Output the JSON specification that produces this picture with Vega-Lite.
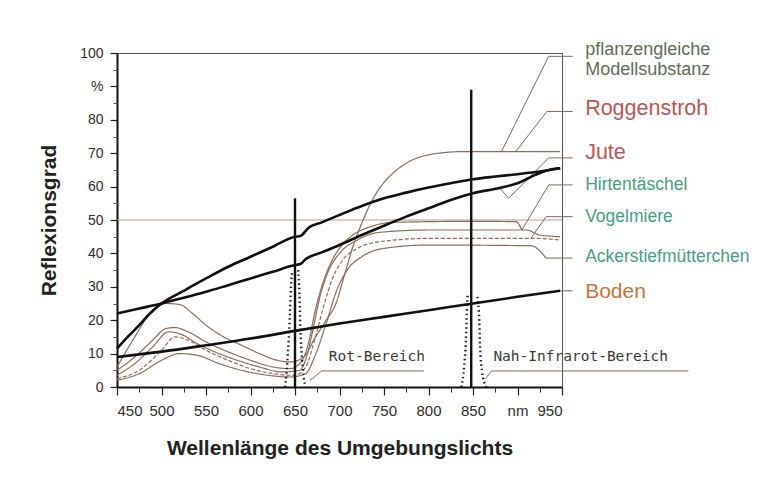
{
  "$schema": "https://vega.github.io/schema/vega-lite/v6.json",
  "width": 445,
  "height": 334,
  "autosize": {"type": "none"},
  "padding": {"left": 117, "top": 53, "right": 200, "bottom": 101},
  "background": "white",
  "config": {"view": {"stroke": "#555", "strokeWidth": 1}, "font": "Liberation Sans"},
  "datasets": {
    "thick": [
      {"s": "A", "x": 450, "y": 22}, {"s": "A", "x": 475, "y": 23.5}, {"s": "A", "x": 500, "y": 25}, {"s": "A", "x": 525, "y": 26.7}, {"s": "A", "x": 550, "y": 28.5}, {"s": "A", "x": 575, "y": 30.5}, {"s": "A", "x": 600, "y": 32.5}, {"s": "A", "x": 625, "y": 34.5}, {"s": "A", "x": 650, "y": 36.5}, {"s": "A", "x": 656, "y": 36.8}, {"s": "A", "x": 662, "y": 38.3}, {"s": "A", "x": 680, "y": 40.3}, {"s": "A", "x": 700, "y": 42.5}, {"s": "A", "x": 725, "y": 45.5}, {"s": "A", "x": 750, "y": 48.3}, {"s": "A", "x": 775, "y": 51}, {"s": "A", "x": 800, "y": 53.5}, {"s": "A", "x": 825, "y": 56}, {"s": "A", "x": 850, "y": 58}, {"s": "A", "x": 880, "y": 59.6}, {"s": "A", "x": 900, "y": 61}, {"s": "A", "x": 920, "y": 63.5}, {"s": "A", "x": 935, "y": 65}, {"s": "A", "x": 948, "y": 65.5},
      {"s": "B", "x": 450, "y": 11.5}, {"s": "B", "x": 462, "y": 15}, {"s": "B", "x": 475, "y": 18.5}, {"s": "B", "x": 487, "y": 22}, {"s": "B", "x": 500, "y": 25}, {"s": "B", "x": 525, "y": 28.8}, {"s": "B", "x": 550, "y": 32.5}, {"s": "B", "x": 575, "y": 36}, {"s": "B", "x": 600, "y": 39}, {"s": "B", "x": 625, "y": 42}, {"s": "B", "x": 650, "y": 45}, {"s": "B", "x": 656, "y": 45.2}, {"s": "B", "x": 665, "y": 47.6}, {"s": "B", "x": 680, "y": 49.3}, {"s": "B", "x": 700, "y": 51.5}, {"s": "B", "x": 725, "y": 54.2}, {"s": "B", "x": 750, "y": 56.5}, {"s": "B", "x": 775, "y": 58.2}, {"s": "B", "x": 800, "y": 59.7}, {"s": "B", "x": 825, "y": 61}, {"s": "B", "x": 850, "y": 62.2}, {"s": "B", "x": 875, "y": 63}, {"s": "B", "x": 900, "y": 63.7}, {"s": "B", "x": 925, "y": 64.5}, {"s": "B", "x": 948, "y": 65.5},
      {"s": "Boden", "x": 450, "y": 9}, {"s": "Boden", "x": 500, "y": 10.6}, {"s": "Boden", "x": 550, "y": 12.5}, {"s": "Boden", "x": 600, "y": 14.5}, {"s": "Boden", "x": 650, "y": 16.8}, {"s": "Boden", "x": 700, "y": 19}, {"s": "Boden", "x": 750, "y": 21}, {"s": "Boden", "x": 800, "y": 23}, {"s": "Boden", "x": 850, "y": 25}, {"s": "Boden", "x": 900, "y": 27}, {"s": "Boden", "x": 948, "y": 28.8}
    ],
    "thin": [
      {"s": "C1", "x": 450, "y": 6}, {"s": "C1", "x": 470, "y": 15}, {"s": "C1", "x": 490, "y": 23}, {"s": "C1", "x": 505, "y": 25}, {"s": "C1", "x": 520, "y": 24.7}, {"s": "C1", "x": 535, "y": 22}, {"s": "C1", "x": 550, "y": 18.5}, {"s": "C1", "x": 570, "y": 15}, {"s": "C1", "x": 590, "y": 12.5}, {"s": "C1", "x": 610, "y": 10}, {"s": "C1", "x": 630, "y": 8}, {"s": "C1", "x": 645, "y": 7.5}, {"s": "C1", "x": 660, "y": 9}, {"s": "C1", "x": 672, "y": 14.5}, {"s": "C1", "x": 685, "y": 20}, {"s": "C1", "x": 696, "y": 25}, {"s": "C1", "x": 705, "y": 33}, {"s": "C1", "x": 715, "y": 42}, {"s": "C1", "x": 725, "y": 49}, {"s": "C1", "x": 735, "y": 55}, {"s": "C1", "x": 745, "y": 59.5}, {"s": "C1", "x": 760, "y": 64}, {"s": "C1", "x": 775, "y": 67}, {"s": "C1", "x": 800, "y": 69.5}, {"s": "C1", "x": 840, "y": 70.5}, {"s": "C1", "x": 948, "y": 70.5},
      {"s": "C2", "x": 450, "y": 5}, {"s": "C2", "x": 470, "y": 9}, {"s": "C2", "x": 490, "y": 14}, {"s": "C2", "x": 505, "y": 17.5}, {"s": "C2", "x": 515, "y": 17.8}, {"s": "C2", "x": 530, "y": 16.5}, {"s": "C2", "x": 550, "y": 13.5}, {"s": "C2", "x": 575, "y": 10.5}, {"s": "C2", "x": 600, "y": 8}, {"s": "C2", "x": 625, "y": 6}, {"s": "C2", "x": 645, "y": 5.5}, {"s": "C2", "x": 658, "y": 8}, {"s": "C2", "x": 665, "y": 13}, {"s": "C2", "x": 672, "y": 22}, {"s": "C2", "x": 680, "y": 30}, {"s": "C2", "x": 690, "y": 37}, {"s": "C2", "x": 700, "y": 41.5}, {"s": "C2", "x": 715, "y": 45.5}, {"s": "C2", "x": 735, "y": 48}, {"s": "C2", "x": 760, "y": 49.3}, {"s": "C2", "x": 850, "y": 49.6}, {"s": "C2", "x": 898, "y": 49.5}, {"s": "C2", "x": 905, "y": 47},
      {"s": "C3", "x": 450, "y": 3.5}, {"s": "C3", "x": 470, "y": 7}, {"s": "C3", "x": 490, "y": 12}, {"s": "C3", "x": 508, "y": 16.5}, {"s": "C3", "x": 520, "y": 16}, {"s": "C3", "x": 540, "y": 13}, {"s": "C3", "x": 560, "y": 10.5}, {"s": "C3", "x": 585, "y": 8}, {"s": "C3", "x": 610, "y": 6}, {"s": "C3", "x": 635, "y": 4.5}, {"s": "C3", "x": 655, "y": 5}, {"s": "C3", "x": 663, "y": 9}, {"s": "C3", "x": 670, "y": 17}, {"s": "C3", "x": 678, "y": 27}, {"s": "C3", "x": 688, "y": 35}, {"s": "C3", "x": 700, "y": 40}, {"s": "C3", "x": 720, "y": 44}, {"s": "C3", "x": 745, "y": 46.3}, {"s": "C3", "x": 800, "y": 47}, {"s": "C3", "x": 910, "y": 47}, {"s": "C3", "x": 925, "y": 45.5}, {"s": "C3", "x": 948, "y": 45},
      {"s": "C4", "x": 450, "y": 2.5}, {"s": "C4", "x": 475, "y": 5}, {"s": "C4", "x": 500, "y": 11}, {"s": "C4", "x": 515, "y": 15}, {"s": "C4", "x": 530, "y": 14}, {"s": "C4", "x": 550, "y": 11}, {"s": "C4", "x": 575, "y": 8}, {"s": "C4", "x": 600, "y": 5.5}, {"s": "C4", "x": 625, "y": 4}, {"s": "C4", "x": 650, "y": 3.5}, {"s": "C4", "x": 662, "y": 6}, {"s": "C4", "x": 672, "y": 14}, {"s": "C4", "x": 682, "y": 24}, {"s": "C4", "x": 693, "y": 33}, {"s": "C4", "x": 705, "y": 38.5}, {"s": "C4", "x": 720, "y": 41.5}, {"s": "C4", "x": 745, "y": 43.5}, {"s": "C4", "x": 800, "y": 44.5}, {"s": "C4", "x": 920, "y": 44.5}, {"s": "C4", "x": 948, "y": 44},
      {"s": "C5", "x": 450, "y": 2}, {"s": "C5", "x": 475, "y": 4}, {"s": "C5", "x": 500, "y": 8}, {"s": "C5", "x": 520, "y": 10}, {"s": "C5", "x": 540, "y": 9.5}, {"s": "C5", "x": 565, "y": 7}, {"s": "C5", "x": 590, "y": 5}, {"s": "C5", "x": 620, "y": 3.5}, {"s": "C5", "x": 645, "y": 3}, {"s": "C5", "x": 662, "y": 4}, {"s": "C5", "x": 672, "y": 9}, {"s": "C5", "x": 685, "y": 19}, {"s": "C5", "x": 697, "y": 29}, {"s": "C5", "x": 710, "y": 35.5}, {"s": "C5", "x": 725, "y": 39}, {"s": "C5", "x": 750, "y": 41.5}, {"s": "C5", "x": 800, "y": 42.5}, {"s": "C5", "x": 915, "y": 42.3}, {"s": "C5", "x": 932, "y": 38.6}
    ],
    "bells": [
      {"s": "P1L", "x": 639, "y": 0}, {"s": "P1L", "x": 642, "y": 10}, {"s": "P1L", "x": 644, "y": 20}, {"s": "P1L", "x": 645.5, "y": 30}, {"s": "P1L", "x": 647, "y": 35},
      {"s": "P1R", "x": 662, "y": 0}, {"s": "P1R", "x": 658, "y": 8}, {"s": "P1R", "x": 656, "y": 18}, {"s": "P1R", "x": 655, "y": 28}, {"s": "P1R", "x": 653.5, "y": 35},
      {"s": "P2L", "x": 837, "y": 0}, {"s": "P2L", "x": 840, "y": 6}, {"s": "P2L", "x": 842, "y": 14}, {"s": "P2L", "x": 843, "y": 22}, {"s": "P2L", "x": 844, "y": 28},
      {"s": "P2R", "x": 865, "y": 0}, {"s": "P2R", "x": 860, "y": 5}, {"s": "P2R", "x": 858, "y": 12}, {"s": "P2R", "x": 857, "y": 20}, {"s": "P2R", "x": 855, "y": 27}
    ],
    "spikes": [
      {"x": 650, "lo": 0, "hi": 56.5},
      {"x": 848, "lo": 0, "hi": 89}
    ],
    "leaders": [
      {"s": "pfl", "x": 882, "y": 70.5}, {"s": "pfl", "x": 935, "y": 99}, {"s": "pfl", "x": 962, "y": 99},
      {"s": "rog", "x": 898, "y": 70.5}, {"s": "rog", "x": 933, "y": 82.5}, {"s": "rog", "x": 962, "y": 82.5},
      {"s": "jut", "x": 880, "y": 59.6}, {"s": "jut", "x": 890, "y": 56.5}, {"s": "jut", "x": 935, "y": 68.6}, {"s": "jut", "x": 962, "y": 68.6},
      {"s": "hir", "x": 905, "y": 47}, {"s": "hir", "x": 935, "y": 60.5}, {"s": "hir", "x": 962, "y": 60.5},
      {"s": "vog", "x": 915, "y": 44.5}, {"s": "vog", "x": 932, "y": 51}, {"s": "vog", "x": 962, "y": 51},
      {"s": "ack", "x": 932, "y": 38.6}, {"s": "ack", "x": 962, "y": 38.6},
      {"s": "bod", "x": 948, "y": 28.8}, {"s": "bod", "x": 962, "y": 28.8},
      {"s": "rot", "x": 667, "y": 2}, {"s": "rot", "x": 680, "y": 4.8}, {"s": "rot", "x": 795, "y": 4.8},
      {"s": "nir", "x": 864, "y": 2.5}, {"s": "nir", "x": 871, "y": 4.8}, {"s": "nir", "x": 1092, "y": 4.8}
    ],
    "ref": [{"x": 450, "y": 50}, {"x": 950, "y": 50}],
    "labels": [
      {"t": "pflanzengleiche", "x": 976, "y": 100.9, "g": "pfl"},
      {"t": "Modellsubstanz", "x": 976, "y": 94.9, "g": "pfl"},
      {"t": "Roggenstroh", "x": 976, "y": 83.2, "g": "red"},
      {"t": "Jute", "x": 976, "y": 70, "g": "red"},
      {"t": "Hirtentäschel", "x": 976, "y": 60.5, "g": "teal"},
      {"t": "Vogelmiere", "x": 976, "y": 50.9, "g": "teal"},
      {"t": "Ackerstiefmütterchen", "x": 976, "y": 38.9, "g": "teal"},
      {"t": "Boden", "x": 976, "y": 28.4, "g": "soil"}
    ],
    "bands": [
      {"t": "Rot-Bereich", "x": 742, "y": 9},
      {"t": "Nah-Infrarot-Bereich", "x": 971, "y": 9}
    ]
  },
  "resolve": {"axis": {"x": "independent", "y": "independent"}},
  "layer": [
    {
      "encoding": {
        "x": {
          "field": "x", "type": "quantitative",
          "scale": {"domain": [450, 950], "nice": false, "zero": false},
          "axis": {
            "values": [450, 500, 550, 600, 650, 700, 750, 800, 850, 900, 950],
            "labelExpr": "datum.value == 900 ? 'nm' : datum.label",
            "labelOverlap": false,
            "title": "Wellenlänge des Umgebungslichts",
            "grid": false,
            "domainColor": "#111", "domainWidth": 2,
            "tickColor": "#222", "tickSize": 8, "tickWidth": 1.2,
            "labelFont": "Liberation Sans", "labelFontSize": 15, "labelColor": "#2e2e2e", "labelPadding": 8,
            "titleFont": "Liberation Sans", "titleFontSize": 21, "titleFontWeight": "bold", "titleColor": "#222", "titlePadding": 19
          }
        },
        "y": {
          "field": "y", "type": "quantitative",
          "scale": {"domain": [0, 100], "nice": false, "zero": false},
          "axis": {
            "values": [0, 10, 20, 30, 40, 50, 60, 70, 80, 90, 100],
            "labelExpr": "datum.value == 90 ? '%' : datum.label",
            "labelOverlap": false,
            "title": "Reflexionsgrad",
            "grid": false,
            "domainColor": "#111", "domainWidth": 2,
            "tickColor": "#222", "tickSize": 7, "tickWidth": 1.2,
            "labelFont": "Liberation Sans", "labelFontSize": 14, "labelColor": "#2e2e2e", "labelPadding": 7,
            "titleFont": "Liberation Sans", "titleFontSize": 21, "titleFontWeight": "bold", "titleColor": "#222", "titlePadding": 20
          }
        }
      },
      "layer": [
        {
          "data": {"name": "ref"},
          "mark": {"type": "line", "color": "#b39b8c", "strokeWidth": 1}
        },
        {
          "data": {"name": "thin"},
          "mark": {"type": "line", "strokeWidth": 1.2, "color": "#8b6d5c", "interpolate": "monotone"},
          "encoding": {
            "detail": {"field": "s"},
            "strokeDash": {"field": "s", "type": "nominal", "scale": {"domain": ["C1", "C2", "C3", "C4", "C5"], "range": [[1, 0], [1, 0], [1, 0], [4, 2], [1, 0]]}, "legend": null}
          }
        },
        {
          "data": {"name": "leaders"},
          "mark": {"type": "line", "strokeWidth": 1, "color": "#7d6a5e"},
          "encoding": {"detail": {"field": "s"}}
        },
        {
          "data": {"name": "bells"},
          "mark": {"type": "line", "strokeWidth": 2.4, "color": "#222", "strokeDash": [1.5, 3], "interpolate": "monotone"},
          "encoding": {"detail": {"field": "s"}}
        },
        {
          "data": {"name": "spikes"},
          "mark": {"type": "rule", "strokeWidth": 2.4, "color": "#111"},
          "encoding": {
            "y": {"field": "lo", "type": "quantitative"},
            "y2": {"field": "hi"}
          }
        },
        {
          "data": {"name": "thick"},
          "mark": {"type": "line", "strokeWidth": 2.6, "color": "#111", "interpolate": "monotone"},
          "encoding": {"detail": {"field": "s"}}
        },
        {
          "data": {"name": "bands"},
          "mark": {"type": "text", "font": "DejaVu Sans Mono", "fontSize": 14.5, "color": "#3a3a3a", "align": "center", "baseline": "middle"},
          "encoding": {"text": {"field": "t"}}
        },
        {
          "data": {"name": "labels"},
          "transform": [{"filter": "datum.g == 'pfl'"}],
          "mark": {"type": "text", "font": "Liberation Sans", "align": "left", "baseline": "middle", "fontSize": 18, "color": "#5f6e58"},
          "encoding": {"text": {"field": "t"}}
        },
        {
          "data": {"name": "labels"},
          "transform": [{"filter": "datum.g == 'red'"}],
          "mark": {"type": "text", "font": "Liberation Sans", "align": "left", "baseline": "middle", "fontSize": 21.5, "color": "#b9585c"},
          "encoding": {"text": {"field": "t"}}
        },
        {
          "data": {"name": "labels"},
          "transform": [{"filter": "datum.g == 'teal'"}],
          "mark": {"type": "text", "font": "Liberation Sans", "align": "left", "baseline": "middle", "fontSize": 17.5, "color": "#4c9c88"},
          "encoding": {"text": {"field": "t"}}
        },
        {
          "data": {"name": "labels"},
          "transform": [{"filter": "datum.g == 'soil'"}],
          "mark": {"type": "text", "font": "Liberation Sans", "align": "left", "baseline": "middle", "fontSize": 21, "color": "#c47742"},
          "encoding": {"text": {"field": "t"}}
        }
      ]
    },
    {
      "data": {"name": "ref"},
      "mark": {"type": "line", "strokeOpacity": 0},
      "encoding": {
        "x": {
          "field": "x", "type": "quantitative",
          "axis": {
            "orient": "bottom",
            "values": [475, 525, 575, 625, 675, 725, 775, 825, 875, 925],
            "labels": false, "domain": false, "grid": false, "title": null,
            "tickColor": "#333", "tickSize": 5, "tickWidth": 1
          }
        },
        "y": {
          "field": "y", "type": "quantitative",
          "axis": {
            "orient": "left",
            "values": [5, 15, 25, 35, 45, 55, 65, 75, 85, 95],
            "labels": false, "domain": false, "grid": false, "title": null,
            "tickColor": "#555", "tickSize": 4, "tickWidth": 1
          }
        }
      }
    }
  ]
}
